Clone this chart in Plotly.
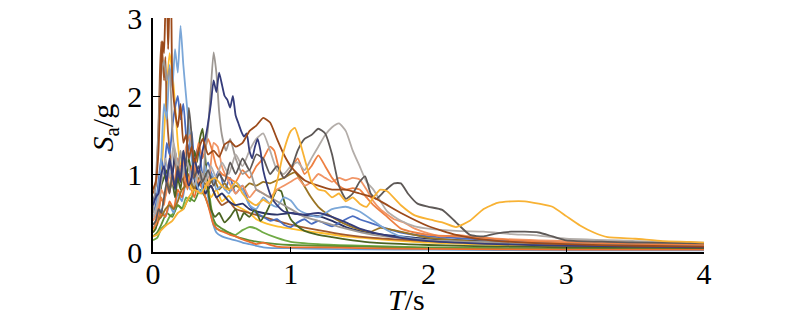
import plotly.graph_objects as go

# ---- data: response spectra, (T [s], Sa/g) pairs ----
green_low = [(0,0.15),(0.03,0.18),(0.06,0.3),(0.09,0.35),(0.12,0.45),(0.15,0.5),(0.18,0.6),(0.21,0.55),(0.24,0.7),(0.27,0.65),(0.3,0.8),(0.33,0.85),(0.36,0.95),(0.38,1.0),(0.4,0.85),(0.42,0.6),(0.44,0.4),(0.46,0.3),(0.5,0.27),(0.55,0.25),(0.6,0.22),(0.65,0.28),(0.7,0.32),(0.75,0.3),(0.8,0.25),(0.9,0.18),(1.0,0.13),(1.2,0.1),(1.5,0.08),(2.0,0.06),(3.0,0.04),(4.0,0.03)]
green2 = [(0,0.2),(0.03,0.25),(0.06,0.35),(0.1,0.5),(0.14,0.45),(0.18,0.6),(0.22,0.55),(0.26,0.7),(0.3,0.65),(0.34,0.8),(0.38,0.7),(0.42,0.5),(0.46,0.35),(0.5,0.3),(0.55,0.25),(0.6,0.2),(0.7,0.15),(0.8,0.12),(0.9,0.1),(1.0,0.09),(1.2,0.08),(1.5,0.07),(2.0,0.05),(3.0,0.04),(4.0,0.035)]
lightblue_low = [(0,0.3),(0.03,0.4),(0.06,0.55),(0.09,0.45),(0.12,0.6),(0.15,0.5),(0.18,0.75),(0.21,0.65),(0.24,0.9),(0.27,0.8),(0.3,1.05),(0.33,0.9),(0.36,0.95),(0.4,0.7),(0.43,0.4),(0.46,0.25),(0.5,0.2),(0.55,0.17),(0.6,0.15),(0.65,0.12),(0.7,0.1),(0.75,0.08),(0.8,0.06),(0.9,0.05),(1.0,0.05),(1.2,0.04),(1.5,0.035),(2.0,0.03),(3.0,0.02),(4.0,0.02)]
orange_low = [(0,0.3),(0.03,0.35),(0.06,0.5),(0.09,0.45),(0.12,0.65),(0.15,0.55),(0.18,0.8),(0.21,0.7),(0.24,0.95),(0.27,0.85),(0.3,0.7),(0.33,0.9),(0.36,0.8),(0.4,0.6),(0.44,0.35),(0.48,0.28),(0.52,0.25),(0.56,0.22),(0.6,0.2),(0.65,0.16),(0.7,0.13),(0.75,0.1),(0.8,0.12),(0.85,0.09),(0.9,0.07),(1.0,0.06),(1.2,0.06),(1.5,0.05),(2.0,0.04),(3.0,0.03),(4.0,0.03)]
gold_early = [(0,0.25),(0.02,0.35),(0.04,0.6),(0.06,1.0),(0.08,1.5),(0.1,2.1),(0.12,2.55),(0.14,2.3),(0.16,1.9),(0.18,1.4),(0.2,1.1),(0.22,0.95),(0.25,1.0),(0.28,0.8),(0.31,0.9),(0.34,0.75),(0.38,0.85),(0.42,0.7),(0.46,0.8),(0.5,0.65),(0.55,0.72),(0.6,0.6),(0.65,0.55),(0.7,0.5),(0.75,0.42),(0.8,0.38),(0.85,0.35),(0.9,0.33),(1.0,0.3),(1.1,0.27),(1.2,0.25),(1.4,0.2),(1.6,0.17),(2.0,0.12),(2.5,0.09),(3.0,0.07),(4.0,0.05)]
brown2 = [(0,0.75),(0.02,0.85),(0.04,1.6),(0.05,2.3),(0.06,2.7),(0.07,2.5),(0.08,2.2),(0.09,2.5),(0.1,1.8),(0.12,1.3),(0.14,1.0),(0.16,1.2),(0.18,0.9),(0.2,1.1),(0.23,0.85),(0.26,1.0),(0.3,0.8),(0.34,0.95),(0.38,0.75),(0.42,0.85),(0.46,0.7),(0.5,0.6),(0.55,0.65),(0.6,0.55),(0.7,0.5),(0.8,0.45),(0.9,0.4),(1.0,0.35),(1.2,0.28),(1.4,0.22),(1.6,0.18),(2.0,0.14),(2.5,0.11),(3.0,0.09),(4.0,0.07)]
navy_flat = [(0,0.65),(0.02,0.75),(0.04,0.6),(0.06,0.9),(0.08,1.1),(0.1,0.85),(0.12,1.15),(0.14,0.95),(0.16,1.3),(0.18,1.05),(0.2,0.9),(0.23,1.1),(0.26,0.85),(0.29,1.0),(0.32,0.8),(0.35,0.95),(0.38,0.75),(0.42,0.85),(0.46,0.7),(0.5,0.75),(0.55,0.65),(0.6,0.6),(0.65,0.62),(0.7,0.55),(0.75,0.52),(0.8,0.5),(0.9,0.48),(1.0,0.5),(1.1,0.47),(1.2,0.46),(1.3,0.4),(1.4,0.32),(1.5,0.27),(1.6,0.24),(1.8,0.2),(2.0,0.17),(2.5,0.13),(3.0,0.1),(3.5,0.09),(4.0,0.08)]
blue = [(0,0.5),(0.02,0.6),(0.04,0.9),(0.06,1.2),(0.08,1.0),(0.1,1.4),(0.12,1.25),(0.14,1.6),(0.16,1.85),(0.18,2.0),(0.2,1.7),(0.22,1.9),(0.24,1.5),(0.26,1.3),(0.28,1.55),(0.3,1.2),(0.33,1.35),(0.36,1.0),(0.4,1.15),(0.44,0.9),(0.48,1.05),(0.52,0.8),(0.56,0.95),(0.6,0.75),(0.65,0.85),(0.7,0.6),(0.75,0.5),(0.8,0.45),(0.85,0.4),(0.9,0.42),(0.95,0.35),(1.0,0.32),(1.05,0.38),(1.1,0.42),(1.15,0.36),(1.2,0.4),(1.3,0.33),(1.4,0.42),(1.45,0.46),(1.5,0.42),(1.6,0.36),(1.7,0.3),(1.8,0.25),(2.0,0.2),(2.3,0.17),(2.6,0.14),(3.0,0.12),(3.5,0.1),(4.0,0.09)]
darkgreen = [(0,0.25),(0.02,0.3),(0.04,0.5),(0.06,0.85),(0.08,0.95),(0.1,1.05),(0.12,0.8),(0.14,0.9),(0.16,0.7),(0.18,0.95),(0.2,0.8),(0.22,1.1),(0.24,0.9),(0.26,1.2),(0.28,1.0),(0.3,1.3),(0.32,1.15),(0.34,1.45),(0.36,1.58),(0.38,1.2),(0.4,0.8),(0.42,0.55),(0.45,0.45),(0.48,0.5),(0.52,0.38),(0.56,0.45),(0.6,0.55),(0.63,0.4),(0.66,0.5),(0.7,0.45),(0.74,0.55),(0.78,0.4),(0.82,0.5),(0.86,0.65),(0.9,0.8),(0.93,0.78),(0.96,0.6),(1.0,0.42),(1.05,0.33),(1.1,0.27),(1.2,0.22),(1.3,0.19),(1.45,0.15),(1.6,0.12),(2.0,0.09),(2.5,0.07),(3.0,0.06),(4.0,0.05)]
olive = [(0,0.35),(0.03,0.4),(0.06,0.45),(0.09,0.55),(0.12,0.6),(0.15,0.55),(0.18,0.65),(0.21,0.8),(0.24,0.85),(0.27,0.9),(0.3,0.82),(0.33,0.95),(0.36,0.9),(0.4,0.85),(0.44,0.95),(0.48,0.8),(0.52,0.88),(0.56,0.78),(0.6,0.85),(0.65,0.8),(0.7,0.88),(0.75,0.85),(0.8,0.9),(0.85,0.88),(0.9,0.92),(0.95,0.95),(1.0,1.0),(1.03,1.02),(1.08,0.9),(1.14,0.72),(1.2,0.58),(1.28,0.47),(1.38,0.37),(1.48,0.3),(1.58,0.26),(1.65,0.31),(1.75,0.28),(1.9,0.22),(2.0,0.18),(2.3,0.14),(2.7,0.11),(3.2,0.08),(4.0,0.06)]
lightblue = [(0,0.4),(0.02,0.5),(0.04,0.8),(0.06,1.2),(0.08,1.9),(0.1,1.7),(0.12,2.4),(0.14,2.1),(0.16,2.6),(0.18,2.3),(0.2,2.9),(0.22,2.4),(0.24,2.0),(0.26,1.6),(0.28,1.2),(0.3,1.0),(0.32,0.85),(0.35,0.75),(0.38,1.1),(0.4,0.95),(0.43,1.0),(0.46,0.8),(0.5,0.85),(0.55,0.75),(0.6,0.9),(0.65,0.8),(0.7,0.6),(0.75,0.55),(0.8,0.7),(0.85,0.62),(0.9,0.58),(0.95,0.7),(1.0,0.66),(1.05,0.55),(1.1,0.5),(1.2,0.45),(1.3,0.55),(1.4,0.58),(1.5,0.52),(1.6,0.4),(1.7,0.28),(1.8,0.2),(2.0,0.15),(2.5,0.12),(3.0,0.1),(3.5,0.08),(4.0,0.07)]
orange_mid = [(0,0.4),(0.03,0.5),(0.06,0.8),(0.09,0.7),(0.12,1.0),(0.15,0.85),(0.18,1.2),(0.21,1.0),(0.24,1.35),(0.27,1.5),(0.3,1.1),(0.33,0.9),(0.36,1.0),(0.4,0.85),(0.44,1.4),(0.47,1.35),(0.5,1.1),(0.55,0.9),(0.6,0.75),(0.65,0.85),(0.7,0.7),(0.75,0.8),(0.8,0.75),(0.85,0.7),(0.9,0.8),(0.95,0.85),(1.0,0.9),(1.05,0.95),(1.1,0.85),(1.15,0.9),(1.2,1.0),(1.25,0.95),(1.3,0.9),(1.35,0.95),(1.4,0.92),(1.45,0.95),(1.5,0.93),(1.55,0.8),(1.6,0.65),(1.65,0.55),(1.7,0.48),(1.75,0.42),(1.82,0.38),(1.9,0.3),(2.0,0.24),(2.1,0.2),(2.2,0.22),(2.3,0.2),(2.5,0.17),(2.8,0.15),(3.0,0.14),(3.5,0.12),(4.0,0.11)]
orange = [(0,0.3),(0.02,0.35),(0.04,0.5),(0.06,0.7),(0.08,0.6),(0.1,0.9),(0.12,0.75),(0.14,1.0),(0.16,0.85),(0.18,1.2),(0.2,0.9),(0.22,1.05),(0.25,0.8),(0.28,1.1),(0.3,0.95),(0.33,1.4),(0.36,1.2),(0.4,1.45),(0.43,1.3),(0.46,1.1),(0.5,1.0),(0.55,0.95),(0.6,0.9),(0.65,1.05),(0.7,0.95),(0.75,1.1),(0.8,1.2),(0.85,1.35),(0.88,1.3),(0.91,1.1),(0.95,0.95),(1.0,1.05),(1.05,1.2),(1.1,1.0),(1.15,1.1),(1.2,1.24),(1.25,1.1),(1.3,0.95),(1.35,0.85),(1.4,0.8),(1.45,0.82),(1.5,0.8),(1.55,0.7),(1.6,0.6),(1.7,0.45),(1.8,0.3),(1.9,0.25),(2.0,0.22),(2.2,0.2),(2.4,0.18),(2.6,0.15),(3.0,0.12),(3.5,0.1),(4.0,0.09)]
gray = [(0,0.5),(0.02,0.9),(0.04,1.6),(0.06,2.3),(0.08,2.45),(0.1,2.2),(0.12,2.35),(0.14,1.6),(0.16,1.2),(0.18,1.05),(0.2,1.3),(0.22,1.0),(0.25,1.15),(0.28,0.95),(0.3,1.2),(0.33,1.0),(0.36,0.9),(0.38,1.3),(0.4,1.6),(0.42,2.1),(0.44,2.56),(0.46,2.3),(0.48,1.8),(0.5,1.5),(0.53,1.3),(0.56,1.45),(0.6,1.2),(0.65,1.0),(0.7,1.05),(0.75,0.8),(0.8,0.75),(0.85,0.7),(0.9,0.65),(1.0,0.55),(1.1,0.45),(1.2,0.4),(1.4,0.3),(1.6,0.22),(1.8,0.18),(2.0,0.15),(2.5,0.12),(3.0,0.1),(3.5,0.08),(4.0,0.07)]
lightgray = [(0,0.45),(0.03,0.6),(0.06,0.9),(0.09,1.2),(0.12,0.95),(0.15,1.4),(0.18,1.1),(0.21,0.95),(0.24,1.2),(0.27,1.0),(0.3,0.85),(0.34,1.05),(0.38,0.9),(0.42,1.1),(0.46,0.95),(0.5,1.15),(0.55,1.0),(0.6,1.25),(0.65,1.1),(0.7,1.3),(0.75,1.45),(0.8,1.52),(0.85,1.3),(0.9,1.05),(0.95,1.0),(1.0,1.1),(1.05,1.15),(1.1,1.05),(1.15,1.2),(1.2,1.35),(1.25,1.5),(1.3,1.6),(1.35,1.65),(1.4,1.55),(1.45,1.3),(1.5,1.1),(1.55,0.9),(1.6,0.8),(1.7,0.52),(1.8,0.4),(1.9,0.33),(2.0,0.3),(2.2,0.27),(2.4,0.26),(2.6,0.23),(2.8,0.21),(3.0,0.17),(3.5,0.14),(4.0,0.12)]
darkgray = [(0,0.35),(0.02,0.4),(0.04,0.55),(0.06,0.5),(0.08,0.7),(0.1,0.9),(0.12,0.75),(0.14,1.0),(0.16,0.85),(0.18,1.1),(0.2,0.95),(0.22,1.3),(0.24,1.1),(0.26,1.85),(0.28,1.5),(0.3,0.95),(0.33,1.1),(0.36,0.9),(0.4,1.05),(0.44,0.85),(0.48,1.0),(0.52,0.9),(0.56,1.15),(0.6,1.0),(0.65,1.2),(0.7,1.05),(0.75,1.25),(0.8,1.2),(0.85,1.0),(0.9,1.1),(0.95,0.95),(1.0,1.05),(1.05,1.3),(1.1,1.45),(1.15,1.5),(1.2,1.58),(1.25,1.52),(1.3,1.25),(1.35,0.85),(1.4,0.68),(1.45,0.75),(1.5,0.9),(1.54,0.97),(1.58,0.75),(1.62,0.68),(1.68,0.78),(1.75,0.88),(1.8,0.88),(1.85,0.75),(1.92,0.62),(2.0,0.58),(2.1,0.54),(2.2,0.38),(2.3,0.22),(2.4,0.2),(2.5,0.24),(2.6,0.26),(2.7,0.26),(2.8,0.25),(2.9,0.2),(3.0,0.15),(3.3,0.13),(3.6,0.12),(4.0,0.11)]
navy = [(0,0.6),(0.02,0.7),(0.04,0.75),(0.06,1.0),(0.08,1.1),(0.1,0.9),(0.12,1.2),(0.14,1.0),(0.16,0.8),(0.18,1.05),(0.2,0.9),(0.22,1.3),(0.24,1.0),(0.26,0.85),(0.28,0.95),(0.3,1.2),(0.33,1.0),(0.36,1.3),(0.39,1.55),(0.42,1.9),(0.44,2.2),(0.46,2.05),(0.48,2.3),(0.5,2.15),(0.52,2.0),(0.54,1.95),(0.56,1.85),(0.58,2.0),(0.6,1.75),(0.62,1.65),(0.64,1.55),(0.66,1.48),(0.68,1.52),(0.7,1.3),(0.72,1.2),(0.74,1.35),(0.76,1.45),(0.78,1.3),(0.8,1.05),(0.83,0.85),(0.86,0.7),(0.9,0.6),(0.95,0.52),(1.0,0.5),(1.1,0.48),(1.2,0.5),(1.3,0.45),(1.4,0.38),(1.5,0.3),(1.6,0.25),(1.8,0.18),(2.0,0.14),(2.5,0.1),(3.0,0.08),(3.5,0.07),(4.0,0.06)]
brown = [(0,0.8),(0.02,0.9),(0.04,1.3),(0.06,2.4),(0.07,2.7),(0.08,2.55),(0.09,3.1),(0.1,3.3),(0.11,2.6),(0.12,3.2),(0.13,3.4),(0.14,2.2),(0.16,1.8),(0.18,1.6),(0.2,1.9),(0.22,1.4),(0.24,1.5),(0.26,1.2),(0.28,1.35),(0.3,1.15),(0.33,1.3),(0.36,1.45),(0.4,1.25),(0.44,1.3),(0.48,1.22),(0.52,1.38),(0.56,1.42),(0.6,1.35),(0.65,1.4),(0.7,1.55),(0.75,1.62),(0.8,1.72),(0.85,1.66),(0.9,1.45),(0.95,1.25),(1.0,1.1),(1.05,1.0),(1.1,0.92),(1.2,0.85),(1.3,0.8),(1.4,0.8),(1.5,0.75),(1.6,0.7),(1.8,0.5),(2.0,0.33),(2.2,0.22),(2.4,0.16),(2.7,0.12),(3.0,0.1),(3.5,0.08),(4.0,0.07)]
gold = [(0,0.2),(0.03,0.22),(0.06,0.28),(0.1,0.35),(0.14,0.4),(0.18,0.5),(0.22,0.55),(0.26,0.7),(0.3,0.8),(0.35,0.75),(0.4,0.9),(0.45,0.95),(0.5,0.85),(0.55,0.8),(0.6,0.9),(0.65,0.75),(0.7,0.65),(0.75,0.6),(0.8,0.67),(0.85,0.62),(0.9,0.9),(0.95,1.3),(1.0,1.55),(1.03,1.59),(1.06,1.45),(1.1,1.2),(1.15,0.9),(1.2,0.8),(1.25,0.78),(1.3,0.7),(1.35,0.75),(1.4,0.65),(1.45,0.7),(1.5,0.62),(1.55,0.58),(1.6,0.7),(1.65,0.8),(1.7,0.78),(1.8,0.6),(1.9,0.47),(2.0,0.42),(2.1,0.38),(2.2,0.32),(2.3,0.4),(2.4,0.55),(2.5,0.63),(2.6,0.65),(2.7,0.65),(2.8,0.62),(2.9,0.58),(3.0,0.46),(3.1,0.34),(3.2,0.25),(3.3,0.19),(3.5,0.17),(3.7,0.14),(3.9,0.13),(4.0,0.12)]

# drawing order (first = bottom) and colour of each record
RECORDS = [green_low, green2, lightblue_low, orange_low, gold_early, brown2, navy_flat,
           blue, darkgreen, olive, lightblue, orange_mid, orange, gray, lightgray,
           darkgray, navy, brown, gold]
COLORS = ["#6FAA45", "#5C8F33", "#6D9DD5", "#EB6F2E", "#FFBE2E", "#A35A2C", "#2B3467",
          "#4A6DC0", "#4B6422", "#9A7424", "#7BA7D8", "#F19566", "#EE8043", "#9E9893", "#B3ADA9",
          "#5E5957", "#353C7A", "#9C4A1A", "#F8B234"]

X_TICKS = [0, 1, 2, 3, 4]
Y_TICKS = [0, 1, 2, 3]
X_TITLE = "<i>T</i>/s"
Y_TITLE = "<i>S</i><sub>a</sub>/g"

FONT = "Liberation Serif, Times New Roman, serif"
FSIZE = 30

fig = go.Figure()
for rec, col in zip(RECORDS, COLORS):
    t = [p[0] for p in rec]
    s = [p[1] for p in rec]
    fig.add_trace(go.Scatter(x=t, y=s, mode="lines",
                             line=dict(color=col, width=1.8, shape="spline", smoothing=0.5),
                             showlegend=False, hoverinfo="skip"))

fig.update_layout(
    width=800, height=322,
    margin=dict(l=153, r=96, t=18, b=70, autoexpand=False),
    paper_bgcolor="white", plot_bgcolor="white",
    font=dict(family=FONT, size=FSIZE, color="black"),
)
fig.update_xaxes(
    range=[0, 4], tickvals=X_TICKS, ticktext=[str(v) for v in X_TICKS],
    showgrid=False, zeroline=False, showline=True, linecolor="black", linewidth=1.5,
    ticks="inside", ticklen=5, tickwidth=1.2, tickcolor="black", automargin=False,
    tickfont=dict(family=FONT, size=FSIZE), ticklabelstandoff=-6,
)
fig.update_yaxes(
    range=[0, 3], tickvals=Y_TICKS, ticktext=[str(v) for v in Y_TICKS],
    showgrid=False, zeroline=False, showline=True, linecolor="black", linewidth=1.5,
    ticks="inside", ticklen=7, tickwidth=1.2, tickcolor="black", automargin=False,
    tickfont=dict(family=FONT, size=FSIZE), ticklabelstandoff=3,
)
# axis titles
fig.add_annotation(text=X_TITLE, xref="paper", yref="paper", x=0.46, y=-0.205,
                   xanchor="center", yanchor="middle", showarrow=False,
                   font=dict(family=FONT, size=FSIZE))
fig.add_annotation(text=Y_TITLE, xref="paper", yref="paper", x=-0.088, y=0.53,
                   xanchor="center", yanchor="middle", showarrow=False, textangle=-90,
                   font=dict(family=FONT, size=FSIZE))

fig.write_html("out.html")
